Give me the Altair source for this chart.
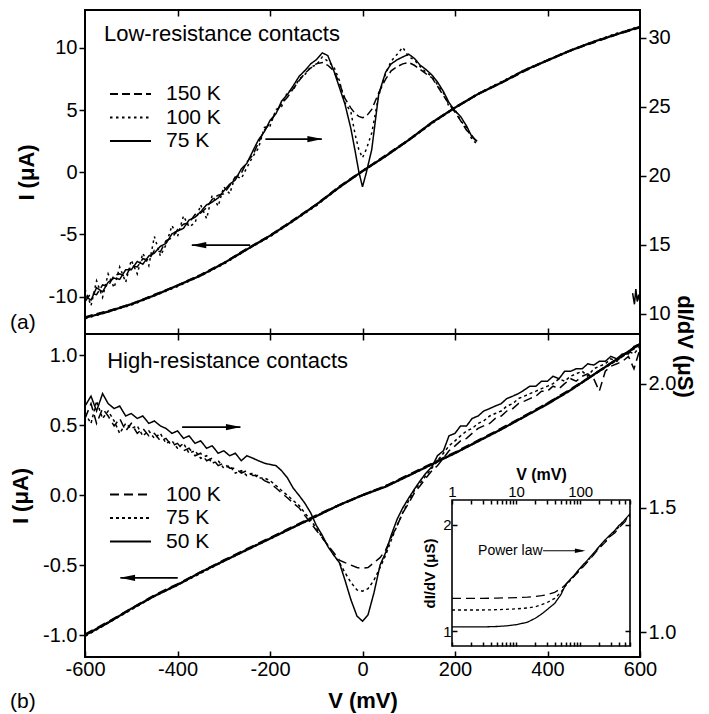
import altair as alt
import pandas as pd

FONT = "Liberation Sans"
W = 555
HA = 324
HB = 323

# ---------------- Panel (a): low-resistance contacts ----------------
TA = ["150 K", "100 K", "75 K"]
VA = [-600, -587, -575, -562, -550, -537, -525, -512, -500, -487, -475, -462, -450, -437, -425, -412,
      -400, -387, -375, -362, -350, -337, -325, -312, -300, -287, -275, -262, -250, -237, -225, -212,
      -200, -187, -175, -162, -150, -137, -125, -112, -100, -87, -75, -62, -50, -38, -25, -16, -8, 0,
      8, 20, 35, 50, 62, 75, 87, 100, 112, 125, 137, 150, 162, 175, 187, 200, 212, 225, 237, 248]
GA_75 = [11.3, 11.0, 11.9, 11.6, 12.3, 12.6, 12.5, 13.2, 13.2, 13.8,
         13.6, 14.2, 14.4, 14.9, 15.1, 15.8, 16.0, 16.2, 16.8, 17.0,
         17.4, 17.9, 18.1, 18.4, 18.9, 19.4, 19.7, 20.5, 20.9, 21.8,
         22.6, 23.2, 24.0, 24.5, 25.4, 25.9, 26.5, 27.2, 27.6, 28.1,
         28.4, 28.9, 28.7, 27.6, 26.4, 25.2, 23.4, 21.8, 20.3, 19.2,
         20.2, 21.9, 25.9, 27.5, 28.1, 28.4, 28.6, 28.8, 28.5, 28.0,
         27.7, 27.3, 26.8, 26.1, 25.3, 24.7, 24.3, 23.6, 22.8, 22.5]
GA_150 = [10.9, 11.5, 11.4, 12.1, 12.0, 12.8, 12.9, 12.7, 13.5, 13.4,
          14.0, 13.9, 14.6, 14.5, 15.3, 15.5, 16.1, 16.5, 16.6, 17.2,
          17.3, 17.7, 18.3, 18.6, 18.7, 19.3, 19.9, 20.2, 21.0, 21.5,
          22.4, 23.3, 23.8, 24.6, 25.2, 25.7, 26.3, 26.9, 27.4, 27.8,
          28.1, 28.2, 28.0, 27.6, 26.7, 25.6, 24.9, 24.5, 24.3, 24.2,
          24.3, 24.8, 26.0, 27.0, 27.6, 27.9, 28.1, 28.2, 28.0, 27.7,
          27.4, 27.1, 26.5, 25.8, 25.2, 24.6, 24.0, 23.3, 22.9, 22.4]
GA_100 = [11.8, 10.6, 12.4, 11.2, 12.9, 11.9, 13.4, 12.3, 13.9, 12.9,
          14.4, 13.5, 15.6, 14.2, 15.0, 16.4, 15.6, 17.1, 16.3, 16.6,
          17.9, 16.9, 18.6, 17.8, 19.2, 18.7, 20.0, 19.8, 20.6, 21.4,
          22.0, 23.5, 23.6, 24.8, 25.0, 26.1, 26.2, 27.0, 27.3, 27.9,
          28.0, 28.6, 28.3, 27.9, 26.9, 25.3, 24.6, 23.0, 21.9, 21.3,
          21.9, 23.1, 25.8, 27.4, 28.3, 28.8, 29.3, 28.6, 28.4, 27.9,
          27.5, 27.2, 26.6, 26.0, 25.0, 24.8, 24.0, 23.5, 22.6, 22.3]
VA_EDGE = [584, 588, 591, 594, 597, 600]
GA_EDGE = [11.5, 10.7, 11.8, 10.9, 11.4, 10.8]

VA_IV = [-600, -550, -500, -450, -400, -350, -300, -250, -200, -150, -100, -50, 0,
         50, 100, 150, 200, 250, 300, 350, 400, 450, 500, 550, 600]
IA_75 = [-11.7, -11.2, -10.6, -9.9, -9.1, -8.3, -7.3, -6.2, -5.1, -3.9, -2.6, -1.2, 0.1,
         1.3, 2.6, 4.0, 5.2, 6.3, 7.2, 8.2, 9.0, 9.8, 10.5, 11.1, 11.7]
IA_100 = [-11.75, -11.2, -10.65, -9.9, -9.15, -8.3, -7.35, -6.2, -5.15, -3.9, -2.65, -1.2, 0.1,
          1.3, 2.6, 3.95, 5.2, 6.3, 7.25, 8.2, 9.0, 9.8, 10.5, 11.15, 11.7]
IA_150 = [-11.65, -11.15, -10.6, -9.85, -9.1, -8.25, -7.3, -6.15, -5.1, -3.85, -2.6, -1.15, 0.1,
          1.35, 2.6, 4.0, 5.2, 6.3, 7.2, 8.15, 9.0, 9.8, 10.45, 11.1, 11.65]

# arrows in panel (a): tail V, tip V, current level
ARR_A_TAIL = [-210, -243]
ARR_A_TIP = [-88, -369]
ARR_A_HEAD = [-103, -354]
ARR_A_I = [2.67, -5.86]
ARR_A_ANG = [0, 180]

# ---------------- Panel (b): high-resistance contacts ----------------
TB = ["100 K", "75 K", "50 K"]
VB = [-600, -587, -575, -562, -550, -537, -525, -512, -500, -487, -475, -462, -450, -437, -425, -412,
      -400, -387, -375, -362, -350, -337, -325, -312, -300, -287, -275, -262, -250, -237, -225, -212,
      -200, -187, -175, -162, -150, -137, -125, -112, -100, -87, -75, -62, -50, -38, -25, -12, 0,
      12, 25, 38, 50, 62, 75, 87, 100, 112, 125, 137, 150, 162, 175, 187, 200, 212, 225, 237, 250,
      262, 275, 287, 300, 312, 325, 337, 350, 362, 375, 387, 400, 412, 425, 437, 450, 462, 475, 487,
      500, 512, 525, 537, 550, 562, 575, 587, 600]
GB_50 = [1.91, 1.95, 1.89, 1.96, 1.92, 1.90, 1.91, 1.87, 1.88, 1.86,
         1.87, 1.84, 1.85, 1.83, 1.82, 1.80, 1.81, 1.78, 1.79, 1.76,
         1.77, 1.74, 1.75, 1.72, 1.73, 1.71, 1.72, 1.69, 1.71, 1.70,
         1.69, 1.68, 1.675, 1.67, 1.65, 1.62, 1.58, 1.55, 1.52, 1.48,
         1.43, 1.39, 1.345, 1.31, 1.28, 1.21, 1.13, 1.065, 1.044, 1.07,
         1.16, 1.27, 1.32, 1.39, 1.455, 1.50, 1.54, 1.575, 1.61, 1.64,
         1.665, 1.71, 1.73, 1.79, 1.80, 1.83, 1.83, 1.86, 1.87, 1.89,
         1.90, 1.91, 1.92, 1.94, 1.95, 1.96, 1.975, 1.99, 1.99, 2.01,
         2.01, 2.03, 2.02, 2.05, 2.05, 2.06, 2.06, 2.08, 2.075, 2.09,
         2.09, 2.11, 2.10, 2.12, 2.12, 2.15, 2.16]
GB_100 = [1.86, 1.92, 1.84, 1.90, 1.87, 1.83, 1.86, 1.81, 1.84, 1.80,
          1.82, 1.79, 1.80, 1.77, 1.78, 1.75, 1.76, 1.73, 1.74, 1.71,
          1.72, 1.69, 1.70, 1.67, 1.68, 1.66, 1.66, 1.64, 1.65, 1.63,
          1.63, 1.61, 1.60, 1.58, 1.56, 1.54, 1.52, 1.50, 1.47, 1.44,
          1.41, 1.38, 1.35, 1.32, 1.29, 1.28, 1.27, 1.26, 1.257, 1.26,
          1.28, 1.30, 1.33, 1.38, 1.43, 1.48, 1.52, 1.56, 1.59, 1.62,
          1.65, 1.67, 1.70, 1.73, 1.75, 1.77, 1.78, 1.80, 1.82, 1.83,
          1.84, 1.86, 1.87, 1.89, 1.90, 1.92, 1.93, 1.94, 1.95, 1.97,
          1.97, 1.99, 1.98, 2.00, 2.02, 2.01, 2.03, 2.04, 2.02, 1.97,
          2.05, 2.07, 2.08, 2.09, 2.11, 2.06, 2.14]
GB_75 = [1.88, 1.84, 1.93, 1.86, 1.89, 1.85, 1.80, 1.84, 1.82, 1.83,
         1.79, 1.81, 1.78, 1.80, 1.76, 1.77, 1.74, 1.76, 1.72, 1.73,
         1.70, 1.71, 1.68, 1.69, 1.66, 1.67, 1.64, 1.65, 1.63, 1.64,
         1.62, 1.62, 1.61, 1.59, 1.57, 1.55, 1.53, 1.51, 1.48, 1.45,
         1.42, 1.38, 1.35, 1.31, 1.28, 1.24, 1.20, 1.17, 1.165, 1.175,
         1.21, 1.26, 1.31, 1.37, 1.43, 1.48, 1.53, 1.57, 1.60, 1.63,
         1.66, 1.69, 1.72, 1.75, 1.77, 1.79, 1.81, 1.82, 1.84, 1.85,
         1.87, 1.88, 1.89, 1.91, 1.92, 1.94, 1.95, 1.96, 1.97, 1.98,
         1.99, 2.00, 2.02, 2.01, 2.03, 2.04, 2.05, 2.03, 2.06, 2.07,
         2.08, 2.10, 2.09, 2.11, 2.13, 2.12, 2.15]

VB_IV = [-600, -550, -500, -450, -400, -350, -300, -250, -200, -150, -100, -50, 0,
         50, 100, 150, 200, 250, 300, 350, 400, 450, 500, 550, 600]
IB_50 = [-1.00, -0.91, -0.81, -0.72, -0.64, -0.55, -0.47, -0.39, -0.31, -0.23, -0.15, -0.07, 0.0,
         0.06, 0.14, 0.22, 0.30, 0.385, 0.47, 0.56, 0.65, 0.75, 0.86, 0.97, 1.08]
IB_75 = [-1.005, -0.91, -0.815, -0.72, -0.64, -0.555, -0.47, -0.39, -0.31, -0.23, -0.15, -0.07, 0.0,
         0.065, 0.14, 0.22, 0.30, 0.385, 0.47, 0.56, 0.655, 0.75, 0.86, 0.965, 1.075]
IB_100 = [-0.995, -0.905, -0.81, -0.715, -0.635, -0.55, -0.465, -0.385, -0.305, -0.225, -0.145, -0.07, 0.0,
          0.065, 0.145, 0.225, 0.305, 0.39, 0.475, 0.565, 0.655, 0.755, 0.86, 0.97, 1.08]

ARR_B_TAIL = [-390, -399.5]
ARR_B_TIP = [-264, -523.5]
ARR_B_HEAD = [-279, -508]
ARR_B_I = [0.486, -0.59]
ARR_B_ANG = [0, 180]

# ---------------- Inset (log-log) ----------------
VIN = [1, 2, 3, 5, 7, 10, 15, 20, 25, 30, 40, 50, 60, 80, 100, 130, 160, 200, 250, 300, 350, 400, 450, 500, 550, 600]
GIN_50 = [1.03, 1.03, 1.03, 1.033, 1.037, 1.045, 1.062, 1.09, 1.12, 1.15, 1.20, 1.27, 1.36, 1.44, 1.51,
          1.59, 1.66, 1.74, 1.82, 1.88, 1.93, 1.99, 2.02, 2.07, 2.11, 2.15]
GIN_75 = [1.15, 1.15, 1.15, 1.152, 1.155, 1.158, 1.165, 1.175, 1.19, 1.205, 1.24, 1.29, 1.35, 1.43, 1.50,
          1.58, 1.65, 1.73, 1.80, 1.87, 1.92, 1.97, 2.03, 2.05, 2.10, 2.13]
GIN_100 = [1.24, 1.24, 1.24, 1.242, 1.244, 1.246, 1.25, 1.255, 1.262, 1.27, 1.29, 1.32, 1.36, 1.43, 1.49,
           1.57, 1.64, 1.72, 1.79, 1.86, 1.90, 1.96, 2.00, 2.04, 2.08, 2.12]
INSET_XDOM = [1, 600]
INSET_YDOM = [0.91, 2.35]
INSET_TICKS = [1, 2, 3, 4, 5, 6, 7, 8, 9, 10, 20, 30, 40, 50, 60, 70, 80, 90, 100, 200, 300, 400, 500, 600]


def long_df(v, series, valname, seg="main"):
    rows = []
    for t, vals in series.items():
        for x, y in zip(v, vals):
            rows.append({"V": x, valname: y, "T": t, "seg": seg})
    return pd.DataFrame(rows)


NEG_D = "(datum.value < 0 ? '-' : '') + format(abs(datum.value), 'd')"
NEG_F = "(datum.value < 0 ? '-' : '') + format(abs(datum.value), '.1f')"
ARROW = "M1,0L-1,-0.42L-1,0.42Z"
XT = [-400, -200, 0, 200, 400]


def dash_enc(domain, rng, legend_y):
    return alt.StrokeDash(
        "T:N",
        scale=alt.Scale(domain=domain, range=rng),
        legend=alt.Legend(orient="none", legendX=34, legendY=legend_y, title=None,
                          symbolType="M-2,0L2,0", symbolSize=420, symbolStrokeWidth=2,
                          symbolStrokeColor="black", symbolFillColor="transparent",
                          labelFont=FONT, labelFontSize=21,
                          labelColor="black", labelOffset=24, rowPadding=1.5, padding=0,
                          labelLimit=0),
    )


def xscale():
    return alt.Scale(domain=[-600, 600], nice=False, zero=False)


# ======== Panel (a) ========
dfA_G = pd.concat([
    long_df(VA, {"150 K": GA_150, "100 K": GA_100, "75 K": GA_75}, "G"),
    long_df(VA_EDGE, {"75 K": GA_EDGE}, "G", seg="edge"),
])
dfA_I = long_df(VA_IV, {"150 K": IA_150, "100 K": IA_100, "75 K": IA_75}, "I")
dash_a = dash_enc(TA, [[8, 4], [2.5, 3.5], [1, 0]], 72.5)

xA = alt.X("V:Q", scale=xscale(),
           axis=alt.Axis(orient="bottom", values=XT, labels=False, tickSize=6, domain=False, title=None))
yA_I = alt.Y("I:Q", scale=alt.Scale(domain=[-13, 13.05], nice=False, zero=False),
             axis=alt.Axis(orient="left", values=[-10, -5, 0, 5, 10], title="I (μA)", domain=False,
                           tickSize=6, labelPadding=2, titlePadding=10, labelExpr=NEG_D))
arrA = pd.DataFrame({"V": ARR_A_TAIL, "V2": ARR_A_TIP, "I": ARR_A_I})
headA = pd.DataFrame({"V": ARR_A_HEAD, "I": ARR_A_I, "ang": ARR_A_ANG})
txtA = pd.DataFrame({"V": [-559], "I": [11.1], "label": ["Low-resistance contacts"]})

ivA = alt.Chart(dfA_I).mark_line(color="black", strokeWidth=2.2).encode(x=xA, y=yA_I, strokeDash=dash_a)
arrA_rule = alt.Chart(arrA).mark_rule(color="black", strokeWidth=1.8).encode(x=xA, x2="V2:Q", y=yA_I)
arrA_head = alt.Chart(headA).mark_point(shape=ARROW, filled=True, color="black", size=225, opacity=1).encode(
    x=xA, y=yA_I, angle=alt.Angle("ang:Q", scale=None))
txtA_l = alt.Chart(txtA).mark_text(align="left", baseline="middle", fontSize=22, font=FONT, color="black").encode(
    x=xA, y=yA_I, text="label:N")
tagA = alt.Chart(pd.DataFrame({"label": ["(a)"]})).mark_text(
    align="left", baseline="middle", fontSize=21, font=FONT, color="black").encode(
    x=alt.value(-75), y=alt.value(313), text="label:N")

xA_top = alt.X("V:Q", scale=xscale(),
               axis=alt.Axis(orient="top", values=XT, labels=False, tickSize=6, offset=-6, domain=False, title=None))
yA_G = alt.Y("G:Q", scale=alt.Scale(domain=[8.55, 32.0], nice=False, zero=False),
             axis=alt.Axis(orient="right", values=[10, 15, 20, 25, 30], title="dI/dV (μS)",
                           titleX=44, titleY=336, titleAngle=90, titleAlign="center", titleBaseline="middle",
                           domain=False, tickSize=6, labelPadding=2))
didvA = alt.Chart(dfA_G).mark_line(color="black", strokeWidth=1.5).encode(
    x=xA_top, y=yA_G, strokeDash=dash_a, detail="seg:N")

panel_a = alt.layer(
    alt.layer(ivA, arrA_rule, arrA_head, txtA_l, tagA),
    didvA,
).resolve_scale(x="independent", y="independent").properties(width=W, height=HA)

# ======== Panel (b) ========
dfB_G = long_df(VB, {"100 K": GB_100, "75 K": GB_75, "50 K": GB_50}, "G")
dfB_I = long_df(VB_IV, {"100 K": IB_100, "75 K": IB_75, "50 K": IB_50}, "I")
dfIN = long_df(VIN, {"100 K": GIN_100, "75 K": GIN_75, "50 K": GIN_50}, "G")
dash_b = dash_enc(TB, [[9, 5], [3, 3], [1, 0]], 149)

xB = alt.X("V:Q", scale=xscale(),
           axis=alt.Axis(orient="bottom", values=[-600, -400, -200, 0, 200, 400, 600], tickSize=6, offset=-6,
                         domain=False, title="V (mV)", labelPadding=2, titlePadding=11, labelExpr=NEG_D))
yB_I = alt.Y("I:Q", scale=alt.Scale(domain=[-1.155, 1.15], nice=False, zero=False),
             axis=alt.Axis(orient="left", values=[-1.0, -0.5, 0.0, 0.5, 1.0], title="I (μA)", domain=False,
                           tickSize=6, labelPadding=2, titlePadding=10, labelExpr=NEG_F))
arrB = pd.DataFrame({"V": ARR_B_TAIL, "V2": ARR_B_TIP, "I": ARR_B_I})
headB = pd.DataFrame({"V": ARR_B_HEAD, "I": ARR_B_I, "ang": ARR_B_ANG})
txtB = pd.DataFrame({"V": [-552], "I": [0.957], "label": ["High-resistance contacts"]})

ivB = alt.Chart(dfB_I).mark_line(color="black", strokeWidth=2.2).encode(x=xB, y=yB_I, strokeDash=dash_b)
arrB_rule = alt.Chart(arrB).mark_rule(color="black", strokeWidth=1.8).encode(x=xB, x2="V2:Q", y=yB_I)
arrB_head = alt.Chart(headB).mark_point(shape=ARROW, filled=True, color="black", size=225, opacity=1).encode(
    x=xB, y=yB_I, angle=alt.Angle("ang:Q", scale=None))
txtB_l = alt.Chart(txtB).mark_text(align="left", baseline="middle", fontSize=22, font=FONT, color="black").encode(
    x=xB, y=yB_I, text="label:N")
tagB = alt.Chart(pd.DataFrame({"label": ["(b)"]})).mark_text(
    align="left", baseline="middle", fontSize=21, font=FONT, color="black").encode(
    x=alt.value(-75), y=alt.value(368), text="label:N")

xB_top = alt.X("V:Q", scale=xscale(),
               axis=alt.Axis(orient="top", values=XT, labels=False, tickSize=6, domain=False, title=None))
yB_G = alt.Y("G:Q", scale=alt.Scale(domain=[0.9, 2.2], nice=False, zero=False),
             axis=alt.Axis(orient="right", values=[1.0, 1.5, 2.0], title=None, domain=False,
                           tickSize=6, labelPadding=2, labelExpr=NEG_F))
didvB = alt.Chart(dfB_G).mark_line(color="black", strokeWidth=1.5).encode(x=xB_top, y=yB_G, strokeDash=dash_b)

# ---- inset ----
def in_xs():
    return alt.Scale(type="log", domain=INSET_XDOM, range=[367, 545], nice=False)


def in_ys():
    return alt.Scale(type="log", domain=INSET_YDOM, range=[312, 166], nice=False)


xin_top = alt.X("V:Q", scale=in_xs(), axis=alt.Axis(
    orient="top", values=INSET_TICKS, offset=-170, tickSize=4, domain=False, zindex=2,
    title="V (mV)", titleFontSize=16, titlePadding=2, labelFontSize=15, labelPadding=1,
    labelOverlap=False,
    labelExpr="(datum.value == 1 || datum.value == 10 || datum.value == 100) ? format(datum.value, 'd') : ''"))
yin_left = alt.Y("G:Q", scale=in_ys(), axis=alt.Axis(
    orient="left", values=[1, 2], offset=-372, tickSize=5, domain=False, zindex=2,
    title="dI/dV (μS)", titleFontSize=15, titlePadding=5, labelFontSize=15, labelPadding=1,
    labelExpr="format(datum.value, 'd')"))
xin_bot = alt.X("V:Q", scale=in_xs(), axis=alt.Axis(
    orient="bottom", values=INSET_TICKS, offset=-15, tickSize=4, domain=False, labels=False,
    title=None, zindex=2))
yin_right = alt.Y("G:Q", scale=in_ys(), axis=alt.Axis(
    orient="right", values=[1, 2], offset=-15, tickSize=5, domain=False, labels=False,
    title=None, zindex=2))

box_df = pd.DataFrame({"V": [INSET_XDOM[0]], "V2": [INSET_XDOM[1]], "G": [INSET_YDOM[0]], "G2": [INSET_YDOM[1]]})
inset_box = alt.Chart(box_df).mark_rect(fill="white", stroke="black", strokeWidth=1.6).encode(
    x=xin_bot, x2="V2:Q", y=yin_right, y2="G2:Q")
inset_lines = alt.Chart(dfIN).mark_line(color="black", strokeWidth=1.3).encode(
    x=xin_top, y=yin_left, strokeDash=dash_b)
pl_txt = alt.Chart(pd.DataFrame({"V": [2.55], "G": [1.69], "label": ["Power law"]})).mark_text(
    align="left", baseline="middle", fontSize=14, font=FONT, color="black").encode(
    x=xin_top, y=yin_left, text="label:N")
pl_rule = alt.Chart(pd.DataFrame({"V": [26.4], "V2": [110], "G": [1.69]})).mark_rule(
    color="black", strokeWidth=1.2).encode(x=xin_top, x2="V2:Q", y=yin_left)
pl_head = alt.Chart(pd.DataFrame({"V": [100], "G": [1.69]})).mark_point(
    shape=ARROW, filled=True, color="black", size=110, opacity=1).encode(x=xin_top, y=yin_left)

inset = alt.layer(
    inset_box,
    alt.layer(inset_lines, pl_txt, pl_rule, pl_head),
).resolve_axis(x="independent", y="independent")

panel_b = alt.layer(
    alt.layer(ivB, arrB_rule, arrB_head, txtB_l, tagB),
    didvB,
    inset,
).resolve_scale(x="independent", y="independent").properties(width=W, height=HB)

chart = alt.VConcatChart(vconcat=[panel_a, panel_b], spacing=0, bounds="flush").resolve_scale(
    strokeDash="independent"
).properties(padding=0).configure_view(
    stroke="black", strokeWidth=2
).configure_axis(
    grid=False, labelFont=FONT, titleFont=FONT, labelFontSize=20, titleFontSize=22,
    titleFontWeight="bold", labelColor="black", titleColor="black", tickColor="black",
    tickWidth=1.5, labelFlush=False, zindex=1
).configure_text(font=FONT)

chart.save("out.html", embed_options={"renderer": "svg", "actions": False})
